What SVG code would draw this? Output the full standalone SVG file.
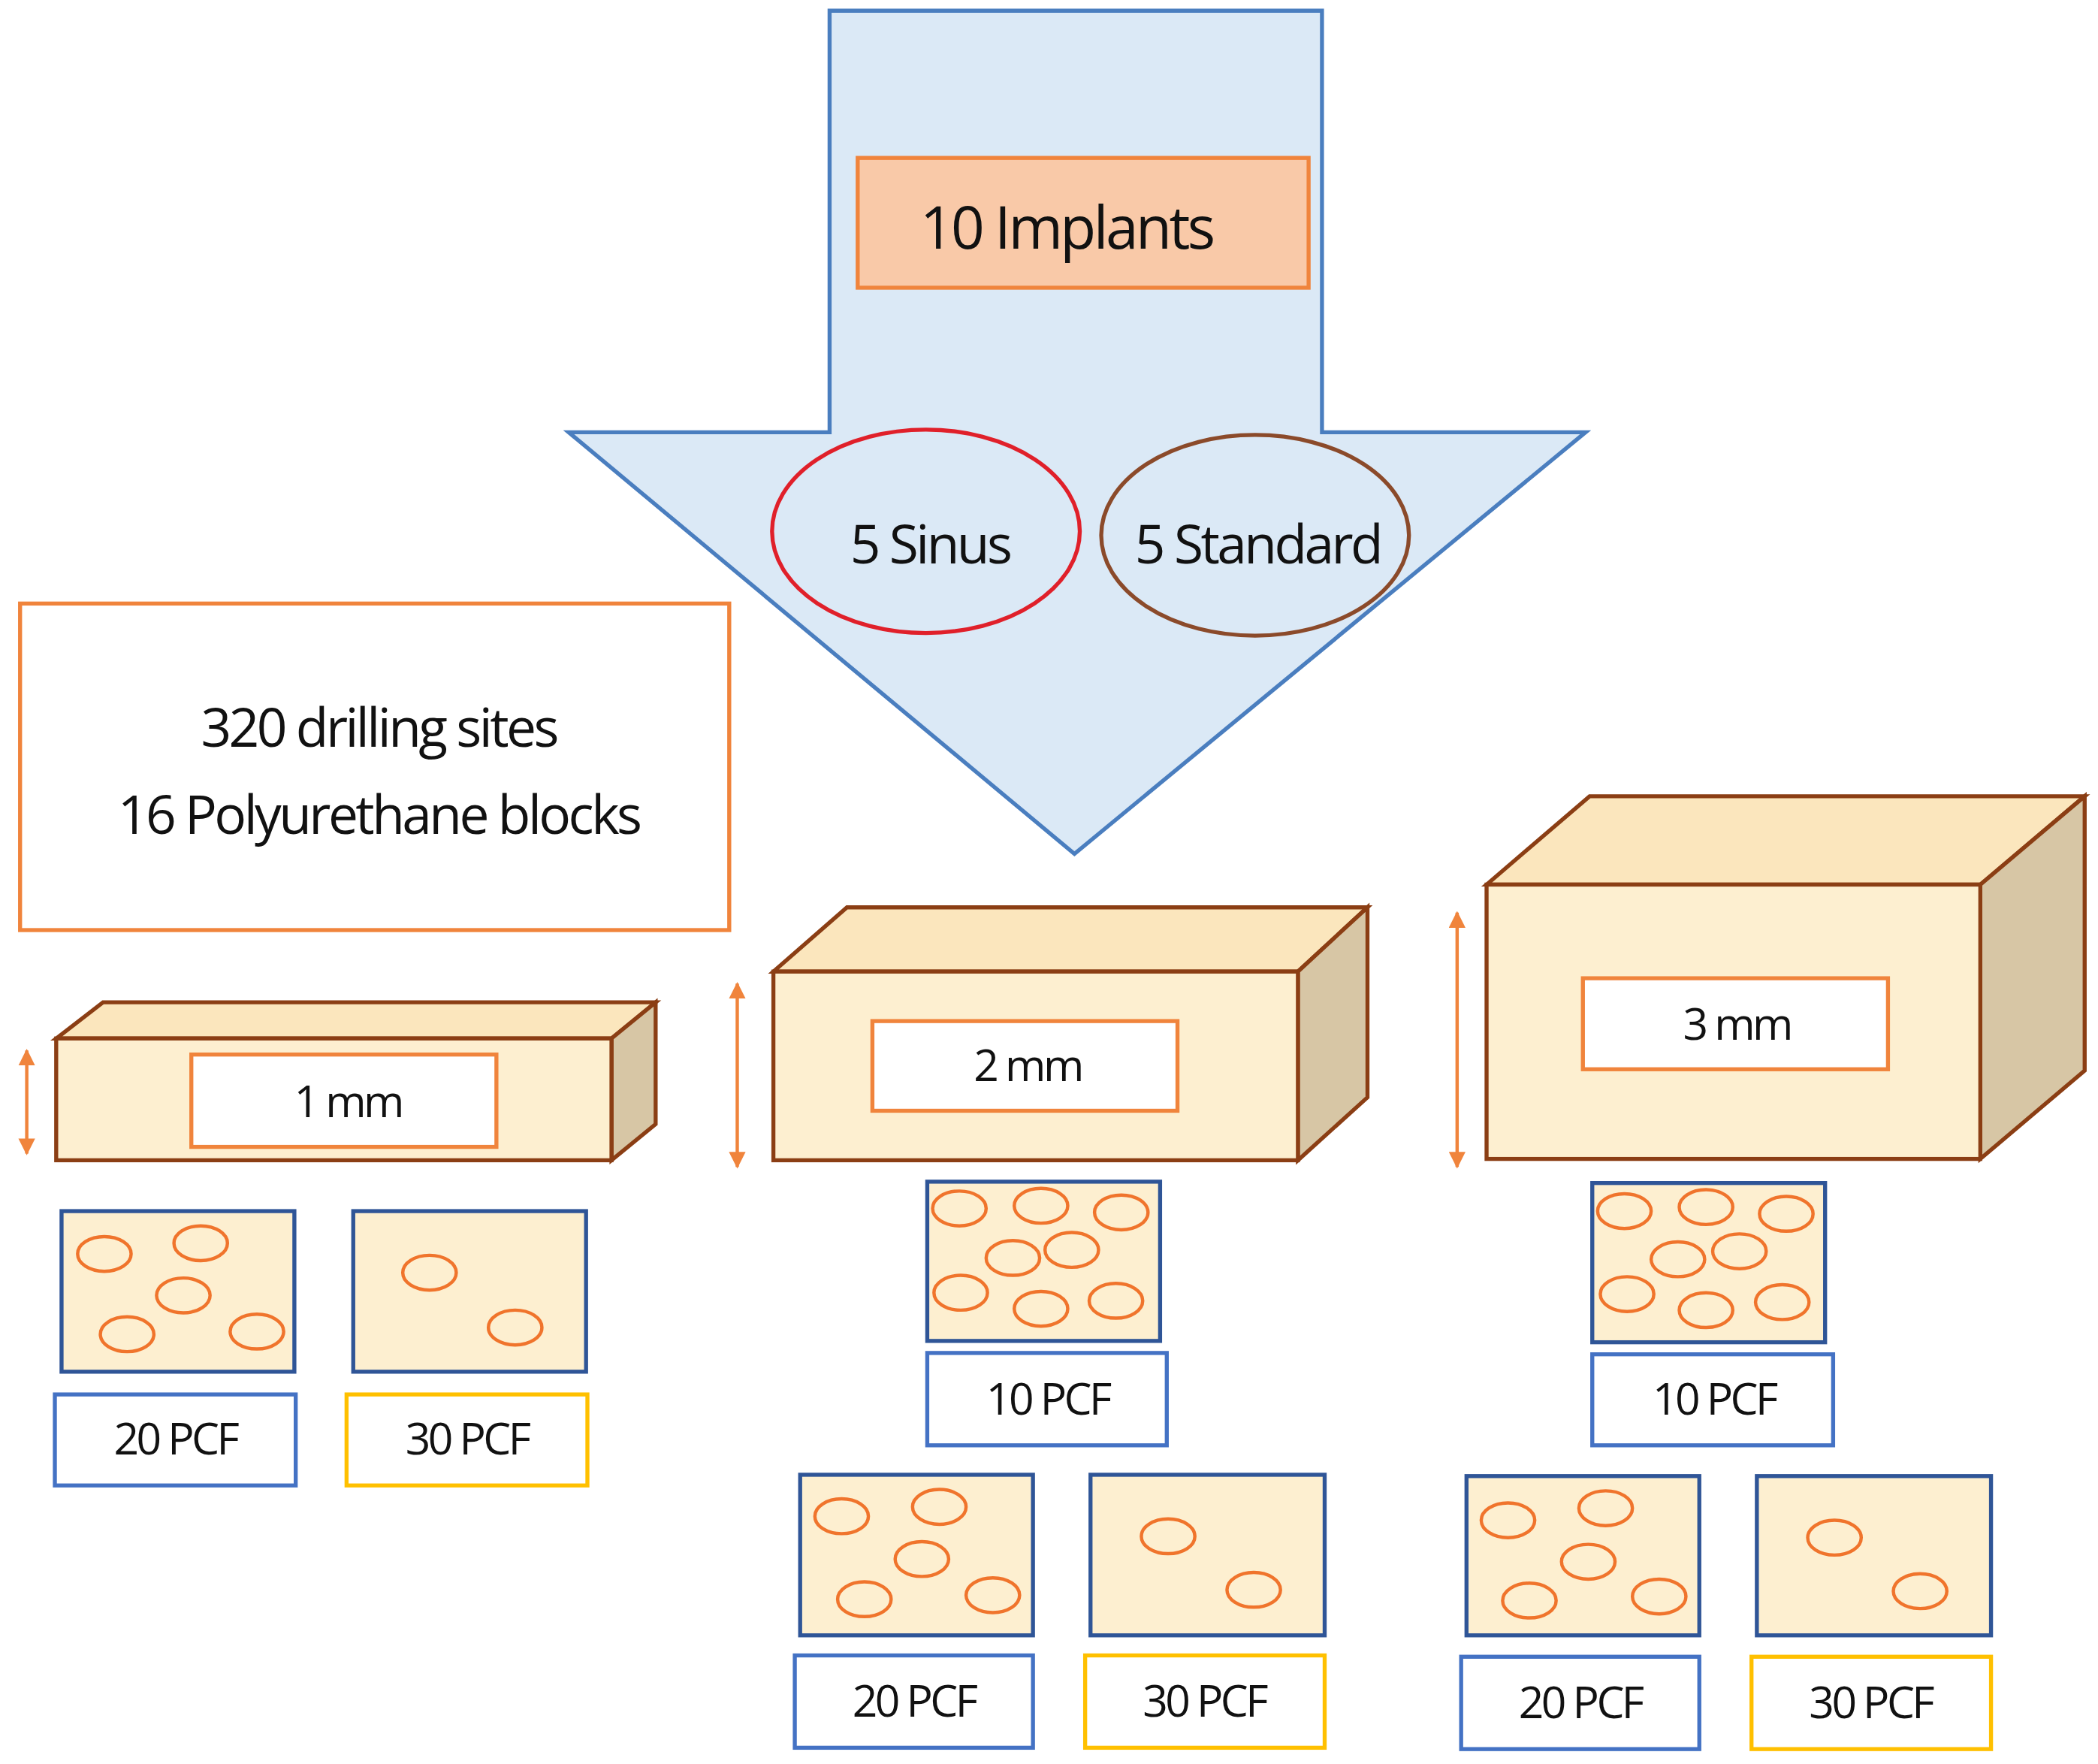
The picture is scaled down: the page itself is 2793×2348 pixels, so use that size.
<svg xmlns="http://www.w3.org/2000/svg" width="2793" height="2348" viewBox="0 0 2793 2348">
<style>
text{font-family:"Open Sans","Liberation Sans",sans-serif;fill:#111;text-anchor:middle;letter-spacing:-2px}
.s{fill:#fdefd0;stroke:#2f5597;stroke-width:3}
.c{fill:none;stroke:#f0742c;stroke-width:2.5}
.lb{fill:#fff;stroke:#4472c4;stroke-width:3}
.ly{fill:#fff;stroke:#ffc000;stroke-width:3}
.fr{fill:#fdefd0;stroke:#8b3e14;stroke-width:3}
.tp{fill:#fbe6bd;stroke:#8b3e14;stroke-width:3}
.sd{fill:#d7c6a5;stroke:#8b3e14;stroke-width:3}
.ml{fill:#fff;stroke:#f0843c;stroke-width:3}
.pc{font-size:33px}
.dim{stroke:#f0843c;stroke-width:2.5;marker-start:url(#ah);marker-end:url(#ah)}
</style>
<defs><marker id="ah" viewBox="0 0 10 10" refX="9" refY="5" markerWidth="5" markerHeight="5" orient="auto-start-reverse"><path d="M0,0L10,5L0,10z" fill="#f0843c"/></marker></defs>
<rect width="2793" height="2348" fill="#fff"/>
<g transform="scale(1.7813)">
<g id="arrow"><polygon points="620,8 988,8 988,323 1185,323 803,638 425,323 620,323" fill="#dbe9f6" stroke="#4a7ebf" stroke-width="3"/></g>
<g id="implants"><rect x="641" y="118" width="337" height="97" fill="#f9c9a8" stroke="#f0843c" stroke-width="3"/><text x="797" y="186" font-size="44">10 Implants</text></g>
<g id="sinus"><ellipse cx="692" cy="397" rx="115" ry="76" fill="none" stroke="#e0202a" stroke-width="3"/><text x="695" y="421" font-size="40">5 Sinus</text></g>
<g id="standard"><ellipse cx="938" cy="400" rx="115" ry="75" fill="none" stroke="#8b4a2a" stroke-width="3"/><text x="940" y="421" font-size="40">5 Standard</text></g>
<g id="info"><rect x="15" y="451" width="530" height="244" fill="#fff" stroke="#f0843c" stroke-width="3"/><text x="283" y="558" font-size="40">320 drilling  sites</text><text x="283" y="623" font-size="40">16  Polyurethane blocks</text></g>
<g id="block1"><polygon class="tp" points="42,776 77,749 490,749 457,776"/><polygon class="sd" points="457,776 490,749 490,840 457,867"/><rect class="fr" x="42" y="776" width="415" height="91"/><rect class="ml" x="143" y="788" width="228" height="69"/><text x="260" y="835" class="pc">1 mm</text></g>
<g id="block2"><polygon class="tp" points="578,726 633,678 1022,678 970,726"/><polygon class="sd" points="970,726 1022,678 1022,820 970,867"/><rect class="fr" x="578" y="726" width="392" height="141"/><rect class="ml" x="652" y="763" width="228" height="67"/><text x="768" y="808" class="pc">2 mm</text></g>
<g id="block3"><polygon class="tp" points="1111,661 1188,595 1558,595 1480,661"/><polygon class="sd" points="1480,661 1558,595 1558,800 1480,866"/><rect class="fr" x="1111" y="661" width="369" height="205"/><rect class="ml" x="1183" y="731" width="228" height="68"/><text x="1298" y="777" class="pc">3 mm</text></g>
<g id="dims"><line class="dim" x1="20" y1="785" x2="20" y2="862"/><line class="dim" x1="551" y1="735" x2="551" y2="872"/><line class="dim" x1="1089" y1="682" x2="1089" y2="872"/></g>
<g id="s1-20"><rect class="s" x="46" y="905" width="174" height="120"/><ellipse class="c" cx="78" cy="937" rx="20" ry="13"/><ellipse class="c" cx="150" cy="929" rx="20" ry="13"/><ellipse class="c" cx="137" cy="968" rx="20" ry="13"/><ellipse class="c" cx="95" cy="997" rx="20" ry="13"/><ellipse class="c" cx="192" cy="995" rx="20" ry="13"/></g>
<g id="s1-30"><rect class="s" x="264" y="905" width="174" height="120"/><ellipse class="c" cx="321" cy="951" rx="20" ry="13"/><ellipse class="c" cx="385" cy="992" rx="20" ry="13"/></g>
<g id="l1-20"><rect class="lb" x="41" y="1042" width="180" height="68"/><text x="131" y="1087" class="pc">20 PCF</text></g>
<g id="l1-30"><rect class="ly" x="259" y="1042" width="180" height="68"/><text x="349" y="1087" class="pc">30 PCF</text></g>
<g id="s2-10"><rect class="s" x="693" y="883" width="174" height="119"/><ellipse class="c" cx="717" cy="903" rx="20" ry="13"/><ellipse class="c" cx="778" cy="901" rx="20" ry="13"/><ellipse class="c" cx="838" cy="906" rx="20" ry="13"/><ellipse class="c" cx="757" cy="940" rx="20" ry="13"/><ellipse class="c" cx="801" cy="934" rx="20" ry="13"/><ellipse class="c" cx="718" cy="966" rx="20" ry="13"/><ellipse class="c" cx="778" cy="978" rx="20" ry="13"/><ellipse class="c" cx="834" cy="972" rx="20" ry="13"/></g>
<g id="l2-10"><rect class="lb" x="693" y="1011" width="179" height="69"/><text x="783" y="1057" class="pc">10 PCF</text></g>
<g id="s2-20"><rect class="s" x="598" y="1102" width="174" height="120"/><ellipse class="c" cx="629" cy="1133" rx="20" ry="13"/><ellipse class="c" cx="702" cy="1126" rx="20" ry="13"/><ellipse class="c" cx="689" cy="1165" rx="20" ry="13"/><ellipse class="c" cx="646" cy="1195" rx="20" ry="13"/><ellipse class="c" cx="742" cy="1192" rx="20" ry="13"/></g>
<g id="s2-30"><rect class="s" x="815" y="1102" width="175" height="120"/><ellipse class="c" cx="873" cy="1148" rx="20" ry="13"/><ellipse class="c" cx="937" cy="1188" rx="20" ry="13"/></g>
<g id="l2-20"><rect class="lb" x="594" y="1237" width="178" height="69"/><text x="683" y="1283" class="pc">20 PCF</text></g>
<g id="l2-30"><rect class="ly" x="811" y="1237" width="179" height="69"/><text x="900" y="1283" class="pc">30 PCF</text></g>
<g id="s3-10"><rect class="s" x="1190" y="884" width="174" height="119"/><ellipse class="c" cx="1214" cy="905" rx="20" ry="13"/><ellipse class="c" cx="1275" cy="902" rx="20" ry="13"/><ellipse class="c" cx="1335" cy="907" rx="20" ry="13"/><ellipse class="c" cx="1254" cy="941" rx="20" ry="13"/><ellipse class="c" cx="1300" cy="935" rx="20" ry="13"/><ellipse class="c" cx="1216" cy="967" rx="20" ry="13"/><ellipse class="c" cx="1275" cy="979" rx="20" ry="13"/><ellipse class="c" cx="1332" cy="973" rx="20" ry="13"/></g>
<g id="l3-10"><rect class="lb" x="1190" y="1012" width="180" height="68"/><text x="1281" y="1057" class="pc">10 PCF</text></g>
<g id="s3-20"><rect class="s" x="1096" y="1103" width="174" height="119"/><ellipse class="c" cx="1127" cy="1136" rx="20" ry="13"/><ellipse class="c" cx="1200" cy="1127" rx="20" ry="13"/><ellipse class="c" cx="1187" cy="1167" rx="20" ry="13"/><ellipse class="c" cx="1143" cy="1196" rx="20" ry="13"/><ellipse class="c" cx="1240" cy="1193" rx="20" ry="13"/></g>
<g id="s3-30"><rect class="s" x="1313" y="1103" width="175" height="119"/><ellipse class="c" cx="1371" cy="1149" rx="20" ry="13"/><ellipse class="c" cx="1435" cy="1189" rx="20" ry="13"/></g>
<g id="l3-20"><rect class="lb" x="1092" y="1238" width="178" height="69"/><text x="1181" y="1284" class="pc">20 PCF</text></g>
<g id="l3-30"><rect class="ly" x="1309" y="1238" width="179" height="69"/><text x="1398" y="1284" class="pc">30 PCF</text></g>
</g>
</svg>
